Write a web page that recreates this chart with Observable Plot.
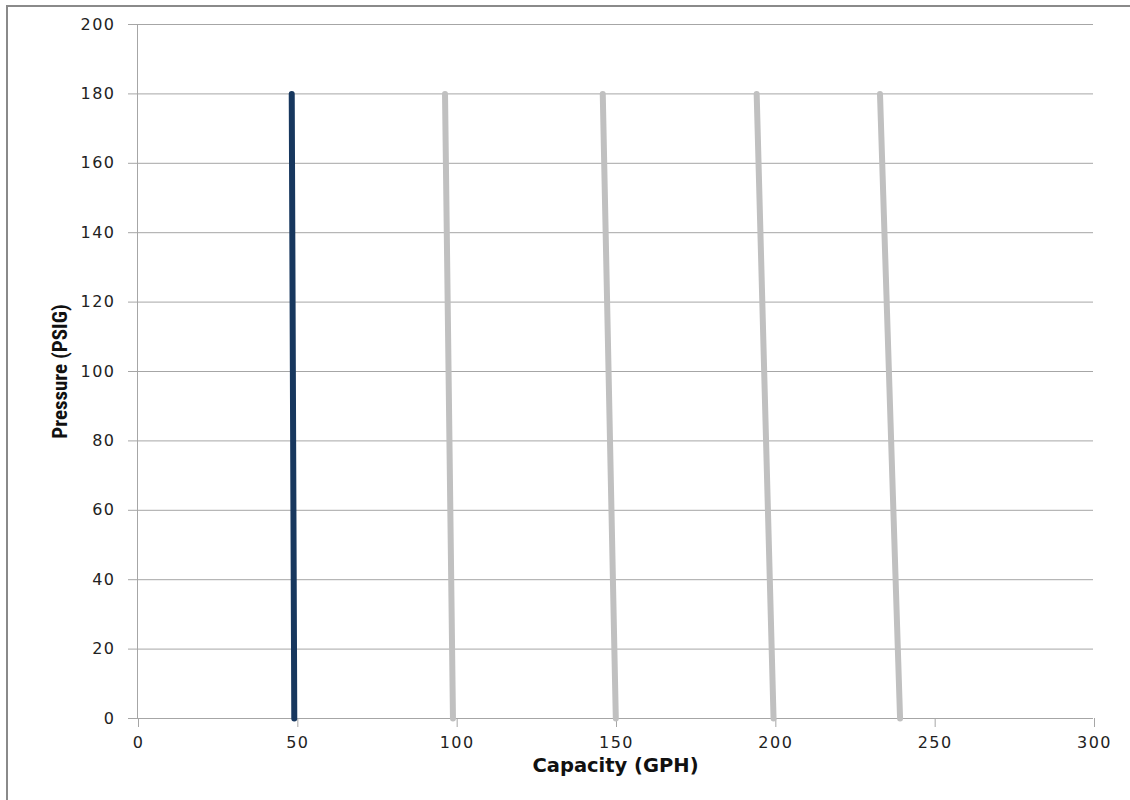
<!DOCTYPE html>
<html>
<head>
<meta charset="utf-8">
<script src="https://cdn.jsdelivr.net/npm/d3@7"></script>
<script src="https://cdn.jsdelivr.net/npm/@observablehq/plot@0.6"></script>
<style>
  html, body { margin: 0; padding: 0; background: #fff; }
  #wrap { position: relative; width: 1130px; height: 800px; overflow: hidden; }
  #border { position: absolute; left: 6px; top: 5px; width: 1200px; height: 900px;
            border-left: 2px solid #8a8a8a; border-top: 2px solid #8a8a8a; }
  #chart { position: absolute; left: 0; top: 0; }
  #chart g[aria-label="x-axis tick label"] text,
  #chart g[aria-label="y-axis tick label"] text { letter-spacing: 1.5px; }
</style>
</head>
<body>
<div id="wrap"><div id="border"></div><div id="chart"></div></div>
<script>
// Pressure levels at the ends of each curve (PSIG)
const pressures = [0, 180];
// Capacity (GPH) at each pressure level, one array per curve
const curve1 = [49.2, 48.4];
const curve2 = [99.0, 96.5];
const curve3 = [150.1, 146.0];
const curve4 = [199.6, 194.3];
const curve5 = [239.3, 233.0];
const curveNames = ["c1", "c2", "c3", "c4", "c5"];
const curveColors = ["#17375e", "#c0c0c0", "#c0c0c0", "#c0c0c0", "#c0c0c0"];
const xTicks = [0, 50, 100, 150, 200, 250, 300];
const yTicks = [0, 20, 40, 60, 80, 100, 120, 140, 160, 180, 200];
const xTitle = "Capacity (GPH)";
const yTitle = "Pressure (PSIG)";

const curves = [curve1, curve2, curve3, curve4, curve5];
const rows = [];
curves.forEach((c, i) => c.forEach((x, j) => rows.push({name: curveNames[i], color: curveColors[i], x, y: pressures[j]})));

const tickFont = "DejaVu Sans, Verdana, sans-serif";
const chart = Plot.plot({
  width: 1130,
  height: 800,
  marginLeft: 137,
  marginRight: 37,
  marginTop: 24,
  marginBottom: 82,
  style: {fontFamily: tickFont, fontSize: "16px", color: "#222", background: "transparent", overflow: "visible"},
  x: {domain: [0, 300], ticks: xTicks},
  y: {domain: [0, 200], ticks: yTicks},
  marks: [
    Plot.gridY(yTicks, {stroke: "#a6a6a6", strokeOpacity: 1, strokeWidth: 1}),
    Plot.axisY(yTicks, {tickSize: 9, stroke: "#a6a6a6", tickPadding: 13, label: null, fill: "#222", fontSize: 16}),
    Plot.axisX(xTicks, {tickSize: 9, stroke: "#a6a6a6", tickPadding: 9, label: null, fill: "#222", fontSize: 16, dx: 1}),
    Plot.ruleX([0], {stroke: "#a6a6a6"}),
    Plot.ruleY([0], {stroke: "#a6a6a6"}),
    Plot.line(rows, {x: "x", y: "y", z: "name", stroke: "color", strokeWidth: 6, strokeLinecap: "round"}),
    Plot.text([xTitle], {frameAnchor: "bottom", dy: 53, text: d => d, fontWeight: "bold", fontSize: 19.5, fill: "#111", fontFamily: tickFont}),
    Plot.text([yTitle], {frameAnchor: "left", textAnchor: "middle", dx: -77, rotate: -90, text: d => d, fontWeight: "bold", fontSize: 21, fill: "#111", fontFamily: "Liberation Sans Narrow, Roboto Condensed, Liberation Sans, sans-serif"})
  ]
});
document.getElementById("chart").appendChild(chart);
</script>
</body>
</html>
